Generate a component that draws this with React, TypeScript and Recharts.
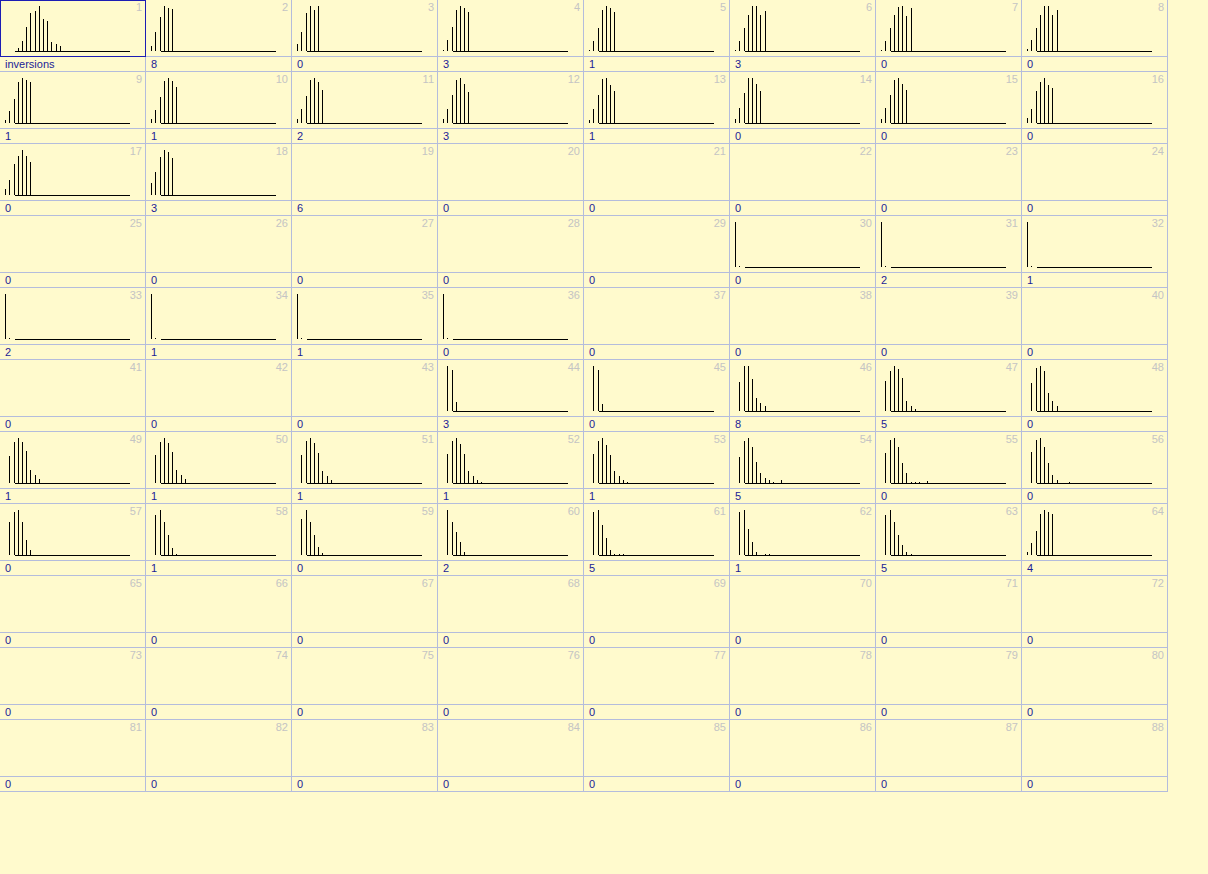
import { BarChart, Bar, XAxis, YAxis, ReferenceLine } from "recharts";

// bottom strip value of every cell, row by row
const footerLabels = [
    "inversions", "8", "0", "3", "1", "3", "0", "0",
    "1", "1", "2", "3", "1", "0", "0", "0",
    "0", "3", "6", "0", "0", "0", "0", "0",
    "0", "0", "0", "0", "0", "0", "2", "1",
    "2", "1", "1", "0", "0", "0", "0", "0",
    "0", "0", "0", "3", "0", "8", "5", "0",
    "1", "1", "1", "1", "1", "5", "0", "0",
    "0", "1", "0", "2", "5", "1", "5", "4",
    "0", "0", "0", "0", "0", "0", "0", "0",
    "0", "0", "0", "0", "0", "0", "0", "0",
    "0", "0", "0", "0", "0", "0", "0", "0",
];

// histogram counts per cell (bin 0 first); cells not listed are empty
const histograms: Record<number, number[]> = {
    1: [0, 0, 0, 10, 31, 73, 116, 120, 136, 97, 91, 28, 22, 16],
    2: [16, 58, 104, 136, 130, 127],
    3: [20, 58, 116, 136, 124, 136],
    4: [2, 34, 73, 124, 136, 129, 118],
    5: [4, 31, 70, 124, 136, 129, 118],
    6: [4, 31, 70, 109, 136, 136, 109, 121],
    7: [4, 31, 70, 109, 134, 136, 107, 130],
    8: [6, 34, 70, 109, 136, 136, 109, 124],
    9: [10, 37, 73, 124, 136, 130, 124],
    10: [13, 40, 79, 127, 136, 127, 109],
    11: [13, 43, 82, 130, 136, 124, 100],
    12: [13, 43, 85, 130, 136, 118, 94],
    13: [10, 43, 85, 133, 136, 115, 97],
    14: [13, 43, 88, 133, 133, 115, 94],
    15: [13, 46, 85, 130, 136, 118, 100],
    16: [16, 43, 97, 124, 136, 115, 106],
    17: [19, 46, 94, 118, 136, 118, 100],
    18: [35, 70, 115, 136, 130, 112],
    30: [136, 3],
    31: [136, 3],
    32: [136, 3],
    33: [136, 3],
    34: [136, 3],
    35: [136, 3],
    36: [136, 3],
    44: [0, 136, 124, 26],
    45: [0, 136, 124, 22],
    46: [0, 88, 136, 136, 96, 40, 24, 14],
    47: [0, 90, 120, 136, 128, 100, 30, 16, 6],
    48: [0, 85, 130, 136, 122, 55, 30, 14],
    49: [0, 82, 124, 136, 124, 97, 40, 25, 13],
    50: [0, 85, 124, 136, 121, 94, 39, 25, 13],
    51: [0, 85, 127, 136, 121, 91, 37, 22, 10],
    52: [0, 88, 127, 136, 118, 88, 37, 22, 10, 4],
    53: [0, 88, 127, 136, 115, 85, 37, 20, 8, 4],
    54: [0, 80, 127, 136, 110, 64, 30, 16, 8, 4, 0, 10],
    55: [0, 90, 130, 136, 110, 60, 30, 4, 3, 3, 0, 6],
    56: [0, 95, 130, 136, 110, 60, 25, 10, 0, 0, 4],
    57: [0, 100, 130, 136, 100, 45, 15],
    58: [0, 120, 136, 100, 60, 20, 4],
    59: [0, 110, 136, 100, 60, 25, 5],
    60: [0, 136, 100, 70, 40, 10],
    61: [0, 130, 136, 90, 50, 15, 4, 4, 4],
    62: [0, 130, 136, 80, 40, 10, 0, 4, 4],
    63: [0, 120, 136, 100, 60, 30, 10, 4],
    64: [10, 37, 73, 124, 136, 130, 124],
};

// bin axis: visible domain and the extent of the drawn baseline
const binDomain = [-1.26, 33.26];
const baselineBins = [2.3, 29.7];

const COLS = 8;
const ROWS = 11;
const CELL_W = 146;
const CELL_H = 72;
const GRID = "#b4bcdc";
const BG = "#fffacd";

function CrispBar(props: any) {
    const { x, y, width, height } = props;
    if (!height || height <= 0) return null;
    const top = Math.round(y);
    const bottom = Math.round(y + height);
    if (bottom - top < 1) return <rect x={Math.floor(x + width / 2)} y={bottom - 1} width={1} height={1} fill="#000" />;
    return <rect x={Math.floor(x + width / 2)} y={top} width={1} height={bottom - top} fill="#000" />;
}

function MiniHist({ values }: { values: number[] }) {
    const data = values.map((v, i) => ({ bin: i, count: v }));
    return (
        <BarChart width={145} height={56} data={data} margin={{ top: 6, right: 0, bottom: 5, left: 0 }}>
            <XAxis type="number" dataKey="bin" domain={binDomain} hide />
            <YAxis type="number" domain={[0, "dataMax"]} hide />
            <ReferenceLine
                segment={[
                    { x: baselineBins[0], y: 0 },
                    { x: baselineBins[1], y: 0 },
                ]}
                stroke="#000"
                strokeWidth={1}
                shapeRendering="crispEdges"
            />
            <Bar dataKey="count" fill="#000" barSize={1} shape={CrispBar} isAnimationActive={false} />
        </BarChart>
    );
}

function Cell({ index }: { index: number }) {
    const id = index + 1;
    const col = index % COLS;
    const row = Math.floor(index / COLS);
    const values = histograms[id];
    return (
        <div
            style={{
                position: "absolute",
                left: col * CELL_W,
                top: row * CELL_H,
                width: CELL_W - 1,
                height: CELL_H - 1,
                borderRight: `1px solid ${GRID}`,
                borderBottom: `1px solid ${GRID}`,
            }}
        >
            <div style={{ position: "relative", height: 56, borderBottom: `1px solid ${GRID}` }}>
                {values ? <MiniHist values={values} /> : null}
                <div
                    style={{
                        position: "absolute",
                        right: 3,
                        top: 1,
                        fontSize: 11,
                        lineHeight: "13px",
                        color: "#c4c4c4",
                    }}
                >
                    {id}
                </div>
                {id === 1 ? (
                    <div
                        style={{
                            position: "absolute",
                            left: 0,
                            top: 0,
                            width: CELL_W,
                            height: 57,
                            boxSizing: "border-box",
                            border: "1px solid #1c1cb4",
                        }}
                    />
                ) : null}
            </div>
            <div style={{ height: 14, paddingLeft: 5, fontSize: 11, lineHeight: "14px", color: "#1c1c96" }}>
                {footerLabels[index]}
            </div>
        </div>
    );
}

export default function App() {
    const cells = [];
    for (let i = 0; i < COLS * ROWS; i++) cells.push(<Cell key={i} index={i} />);
    return (
        <div
            style={{
                position: "relative",
                width: 1208,
                height: 874,
                background: BG,
                fontFamily: "'Liberation Sans', Arial, sans-serif",
                overflow: "hidden",
            }}
        >
            <style>{`body{margin:0;background:${BG}}`}</style>
            {cells}
        </div>
    );
}
